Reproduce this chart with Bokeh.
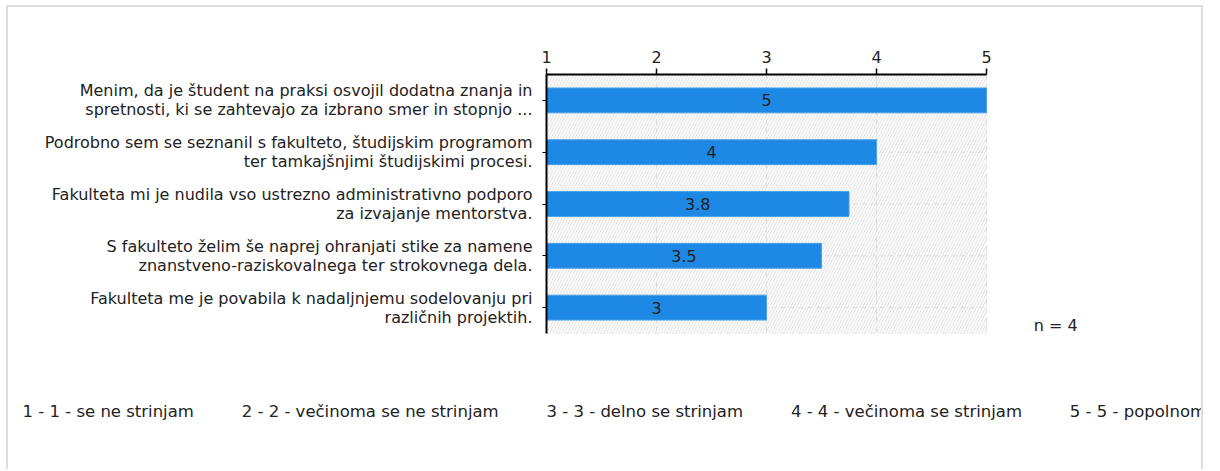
from bokeh.plotting import figure
from bokeh.models import Range1d, FixedTicker, Title
from bokeh.embed import file_html
from bokeh.resources import INLINE

# ---- data ----
questions = [
    "Menim, da je študent na praksi osvojil dodatna znanja in\nspretnosti, ki se zahtevajo za izbrano smer in stopnjo ...",
    "Podrobno sem se seznanil s fakulteto, študijskim programom\nter tamkajšnjimi študijskimi procesi.",
    "Fakulteta mi je nudila vso ustrezno administrativno podporo\nza izvajanje mentorstva.",
    "S fakulteto želim še naprej ohranjati stike za namene\nznanstveno-raziskovalnega ter strokovnega dela.",
    "Fakulteta me je povabila k nadaljnjemu sodelovanju pri\nrazličnih projektih.",
]
scores = [5, 4, 3.75, 3.5, 3]
score_labels = ["5", "4", "3.8", "3.5", "3"]
scale_ticks = [1, 2, 3, 4, 5]
legend_labels = [
    "1 - 1 - se ne strinjam",
    "2 - 2 - večinoma se ne strinjam",
    "3 - 3 - delno se strinjam",
    "4 - 4 - večinoma se strinjam",
    "5 - 5 - popolnoma se strinjam",
]
n_respondents = 4

# ---- style / layout ----
FONT = "DejaVu Sans"
FS = "16px"
TXT = "#222222"
GRID = "#dcdcdc"
ypos = list(range(len(questions)))
ymin, ymax = -0.5, len(questions) - 0.5
x_lo, x_hi = scale_ticks[0], scale_ticks[-1]

p = figure(
    width=1197, height=464,
    x_range=Range1d(x_lo, 6.036), y_range=Range1d(ymax, ymin),
    x_axis_location="above",
    output_backend="svg", toolbar_location=None,
    min_border_left=538, min_border_right=105, min_border_top=67, min_border_bottom=138,
    styles={"margin-left": "6px", "margin-top": "5px",
            "border-left": "2px solid #dddddd", "border-top": "2px solid #dddddd",
            "border-right": "2px solid #dddddd"},
)
p.outline_line_color = None
p.background_fill_color = "white"
p.border_fill_color = "white"
p.xgrid.visible = False
p.ygrid.visible = False

# hatched plot-area background
p.quad(left=[x_lo], right=[x_hi], top=[ymin], bottom=[ymax],
       fill_color="#fcfcfc", line_color=None,
       hatch_pattern="right_diagonal_line", hatch_color="#e3e3e3", hatch_scale=6, hatch_weight=1)

# dashed grid lines and plot-area edges
p.segment(x0=scale_ticks[1:], y0=ymin, x1=scale_ticks[1:], y1=ymax,
          line_color=GRID, line_dash="5 4", line_width=1)
p.segment(x0=x_lo, y0=ypos, x1=x_hi, y1=ypos,
          line_color=GRID, line_dash="5 4", line_width=1)
p.segment(x0=[x_lo], y0=[ymax], x1=[x_hi], y1=[ymax],
          line_color=GRID, line_dash="5 4", line_width=1)

# bars
p.hbar(y=ypos, left=x_lo, right=scores, height=0.48,
       fill_color="#1e88e5", line_color="#4aa0ea", line_width=1)

# value labels
p.text(x=[(x_lo + s) / 2 for s in scores], y=ypos, text=score_labels,
       text_align="center", text_baseline="middle",
       text_font={"value": FONT}, text_font_size=FS, text_color=TXT)

# n = 4
p.text(x=[5.43], y=[4.35], text=[f"n = {n_respondents}"],
       text_align="left", text_baseline="middle",
       text_font={"value": FONT}, text_font_size=FS, text_color=TXT)

# axes
p.xaxis.ticker = FixedTicker(ticks=scale_ticks)
p.xaxis.bounds = (x_lo, x_hi)
p.xaxis.axis_line_color = "black"
p.xaxis.axis_line_width = 2
p.xaxis.major_tick_line_color = "black"
p.xaxis.major_tick_line_width = 1.5
p.xaxis.major_tick_out = 6
p.xaxis.major_tick_in = 0
p.xaxis.minor_tick_line_color = None
p.xaxis.major_label_text_font = FONT
p.xaxis.major_label_text_font_size = FS
p.xaxis.major_label_text_color = TXT
p.xaxis.major_label_standoff = 6

p.yaxis.ticker = FixedTicker(ticks=ypos)
p.yaxis.major_label_overrides = {i: q for i, q in zip(ypos, questions)}
p.yaxis.axis_line_color = "black"
p.yaxis.axis_line_width = 2
p.yaxis.major_tick_line_color = "black"
p.yaxis.major_tick_out = 4
p.yaxis.major_tick_in = 0
p.yaxis.minor_tick_line_color = None
p.yaxis.major_label_text_font = FONT
p.yaxis.major_label_text_font_size = FS
p.yaxis.major_label_text_color = TXT
p.yaxis.major_label_text_align = "right"
p.yaxis.major_label_text_line_height = 1.0
p.yaxis.major_label_standoff = 10

# legend row as a title strip below the chart
SEP = "\u2003\u2003\u2002\u2009\u2009"
legend = Title(text="\n" + SEP.join(legend_labels), align="left", offset=-524, standoff=94,
               text_font=FONT, text_font_size="16.5px", text_font_style="normal",
               text_color=TXT)
p.add_layout(legend, "below")

open("out.html", "w").write(file_html(p, INLINE))
